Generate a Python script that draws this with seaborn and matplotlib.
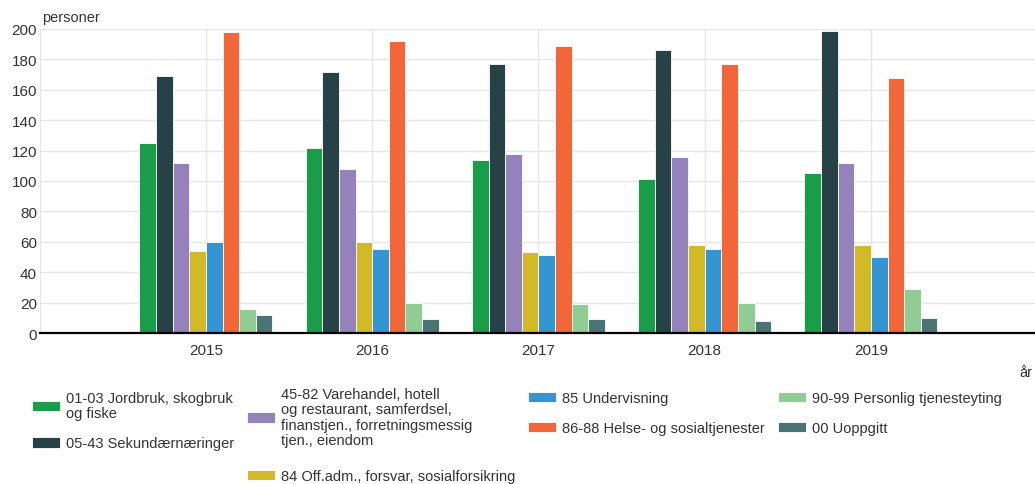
import matplotlib
matplotlib.use("Agg")
import matplotlib.pyplot as plt
import seaborn as sns
import pandas as pd

years = ["2015", "2016", "2017", "2018", "2019"]
categories = [
    "01-03 Jordbruk, skogbruk\nog fiske",
    "05-43 Sekundærnæringer",
    "45-82 Varehandel, hotell\nog restaurant, samferdsel,\nfinanstjen., forretningsmessig\ntjen., eiendom",
    "84 Off.adm., forsvar, sosialforsikring",
    "85 Undervisning",
    "86-88 Helse- og sosialtjenester",
    "90-99 Personlig tjenesteyting",
    "00 Uoppgitt",
]
jordbruk = [125, 122, 114, 101, 105]
sekundaer = [169, 172, 177, 186, 199]
varehandel = [112, 108, 118, 116, 112]
offadm = [54, 60, 53, 58, 58]
undervisning = [60, 55, 51, 55, 50]
helse = [198, 192, 189, 177, 168]
personlig = [16, 20, 19, 20, 29]
uoppgitt = [12, 9, 9, 8, 10]
series = [jordbruk, sekundaer, varehandel, offadm, undervisning, helse, personlig, uoppgitt]
colors = ["#1a9d49", "#274247", "#9582bb", "#d1b928", "#3396d3", "#f26739", "#90cc93", "#4a7373"]
yticks = [0, 20, 40, 60, 80, 100, 120, 140, 160, 180, 200]

rows = []
for cat, vals in zip(categories, series):
    for y, v in zip(years, vals):
        rows.append({"år": y, "kategori": cat, "personer": v})
df = pd.DataFrame(rows)

sns.set_theme(style="white")
plt.rcParams["font.family"] = ["Liberation Sans", "DejaVu Sans"]
W, H = 1035, 485
fig = plt.figure(figsize=(W / 100, H / 100), dpi=100)
left, right, top, bottom = 39.75, 1037.25, 30, 334
ax = fig.add_axes([left / W, 1 - bottom / H, (right - left) / W, (bottom - top) / H])

sns.barplot(data=df, x="år", y="personer", hue="kategori", order=years,
            hue_order=categories, palette=colors, ax=ax, width=0.8,
            edgecolor="white", linewidth=0.6, saturation=1, legend=True, zorder=3)

ax.set_xlim(-1, 5)
ax.set_ylim(0, 200)
ax.set_yticks(yticks)
ax.set_yticklabels([str(t) for t in yticks])
ax.set_xticks(range(len(years)))
ax.set_xticklabels(years)
ax.tick_params(axis="both", length=0, labelsize=11, colors="#333333")
ax.tick_params(axis="y", pad=2)
ax.tick_params(axis="x", pad=7)
ax.set_xlabel("")
ax.set_ylabel("")
for s in ["top", "right", "left"]:
    ax.spines[s].set_visible(False)
ax.spines["bottom"].set_color("#000000")
ax.spines["bottom"].set_linewidth(1.6)
ax.spines["bottom"].set_zorder(5)
for t in yticks:
    ax.axhline(t, color="#e6e6e6", lw=1, zorder=0)
for x in range(-1, 6):
    ax.axvline(x, color="#e6e6e6", lw=1, zorder=0)

fig.text(42 / W, 1 - 18 / H, "personer", fontsize=10.5, color="#333333", va="center", ha="left")
fig.text(1019 / W, 1 - 373 / H, "år", fontsize=10.5, color="#333333", va="center", ha="left")

handles, labels = ax.get_legend_handles_labels()
ax.get_legend().remove()
col_x = [32, 247, 528, 778]
col_top = [392, 388, 392, 392]
col_gap = [1.1, 1.5, 1.1, 1.1]
for i, cx in enumerate(col_x):
    hs = handles[2 * i:2 * i + 2]
    ls = labels[2 * i:2 * i + 2]
    leg = fig.legend(hs, ls, loc="upper left", bbox_to_anchor=(cx / W, 1 - col_top[i] / H),
                     bbox_transform=fig.transFigure, ncol=1, frameon=False, fontsize=10.5,
                     borderpad=0, borderaxespad=0, handlelength=1.9, handleheight=0.75,
                     handletextpad=0.4, labelspacing=col_gap[i])
    for t in leg.get_texts():
        t.set_color("#333333")
        t.set_linespacing(1.13)

fig.savefig("out.png", dpi=100)
